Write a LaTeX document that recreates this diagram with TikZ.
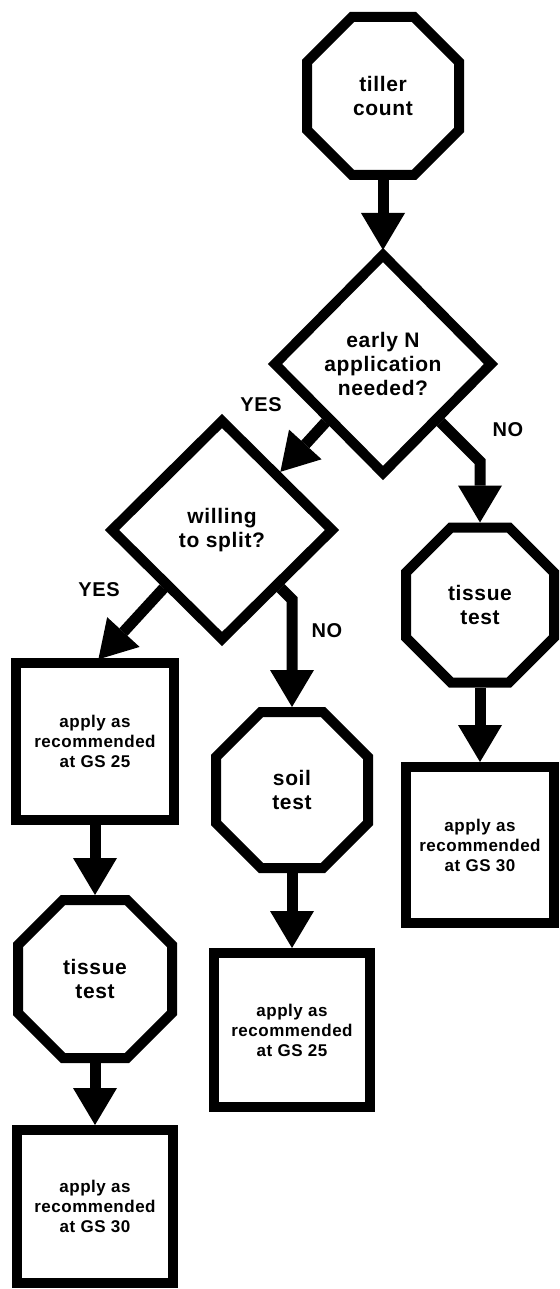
\documentclass[tikz,border=0pt]{standalone}
\usepackage{fontspec}
\setmainfont{Liberation Sans}[LetterSpace=3]
\usetikzlibrary{shapes.geometric,arrows.meta,calc}
\newcommand\octdraw[1]{%
  \draw[shapeline] ([xshift=45pt]#1.north west) -- ([xshift=-45pt]#1.north east)
    -- ([yshift=-45pt]#1.north east) -- ([yshift=45pt]#1.south east)
    -- ([xshift=-45pt]#1.south east) -- ([xshift=45pt]#1.south west)
    -- ([yshift=45pt]#1.south west) -- ([yshift=-45pt]#1.north west) -- cycle;}
\begin{document}
\begin{tikzpicture}[x=1pt,y=-1pt,
  shapeline/.style={line width=10pt, line join=miter},
  oct/.style={rectangle, inner sep=0pt, outer sep=0pt, align=center,
    font=\fontsize{21}{24}\selectfont\bfseries},
  dia/.style={diamond, draw, shapeline, inner sep=0pt, outer sep=0pt, align=center,
    font=\fontsize{21}{24}\selectfont\bfseries},
  boxnode/.style={rectangle, draw, shapeline, inner sep=0pt, outer sep=0pt, align=center,
    font=\fontsize{17}{20}\selectfont\bfseries},
  lbl/.style={font=\fontsize{20}{24}\selectfont\bfseries, inner sep=0pt},
  arr/.style={line width=11pt, line join=miter, shorten <=5pt, shorten >=5pt,
    -{Triangle[length=37pt,width=44pt,line width=0pt]}}]
\useasboundingbox (0,0) rectangle (559,1289);

\node[oct, minimum width=152pt, minimum height=158pt] (t1) at (383,96) {tiller\\count};
\node[dia, minimum width=216pt, minimum height=218pt] (d1) at (383,364) {early N\\application\\needed?};
\node[dia, minimum width=220pt, minimum height=218pt] (d2) at (222,530) {willing\\to split?};
\node[oct, minimum width=148pt, minimum height=155pt] (t2) at (480,605) {tissue\\test};
\node[boxnode, minimum width=148pt, minimum height=156pt] (b2) at (480,845) {apply as\\recommended\\at GS 30};
\node[boxnode, minimum width=158pt, minimum height=157pt] (b1) at (95,741.5) {apply as\\recommended\\at GS 25};
\node[oct, minimum width=152pt, minimum height=156pt] (s) at (292,790) {soil\\test};
\node[boxnode, minimum width=156pt, minimum height=154pt] (b3) at (292,1030) {apply as\\recommended\\at GS 25};
\node[oct, minimum width=154pt, minimum height=158pt] (t3) at (95,979) {tissue\\test};
\node[boxnode, minimum width=156pt, minimum height=153pt] (b4) at (95,1206.5) {apply as\\recommended\\at GS 30};

\octdraw{t1}
\octdraw{t2}
\octdraw{s}
\octdraw{t3}

\node[lbl] (yes1) at (261,405) {YES};
\node[lbl] (no1) at (508,430) {NO};
\node[lbl] (yes2) at (99,590) {YES};
\node[lbl] (no2) at (327,631) {NO};

\draw[arr] (t1.south) -- (d1.north);
\draw[arr] (d1.south west) -- (d2.north east);
\draw[arr] let \p1=(d1.south east), \p2=(t2.north) in
  (d1.south east) -- (\x2,\y1-\x2+\x1) -- (t2.north);
\draw[arr] (d2.south west) -- (b1.north);
\draw[arr] let \p1=(d2.south east), \p2=(s.north) in
  (d2.south east) -- (\x2,\y1-\x2+\x1) -- (s.north);
\draw[arr] (t2.south) -- (b2.north);
\draw[arr] (b1.south) -- (t3.north);
\draw[arr] (s.south) -- (b3.north);
\draw[arr] (t3.south) -- (b4.north);
\end{tikzpicture}
\end{document}
